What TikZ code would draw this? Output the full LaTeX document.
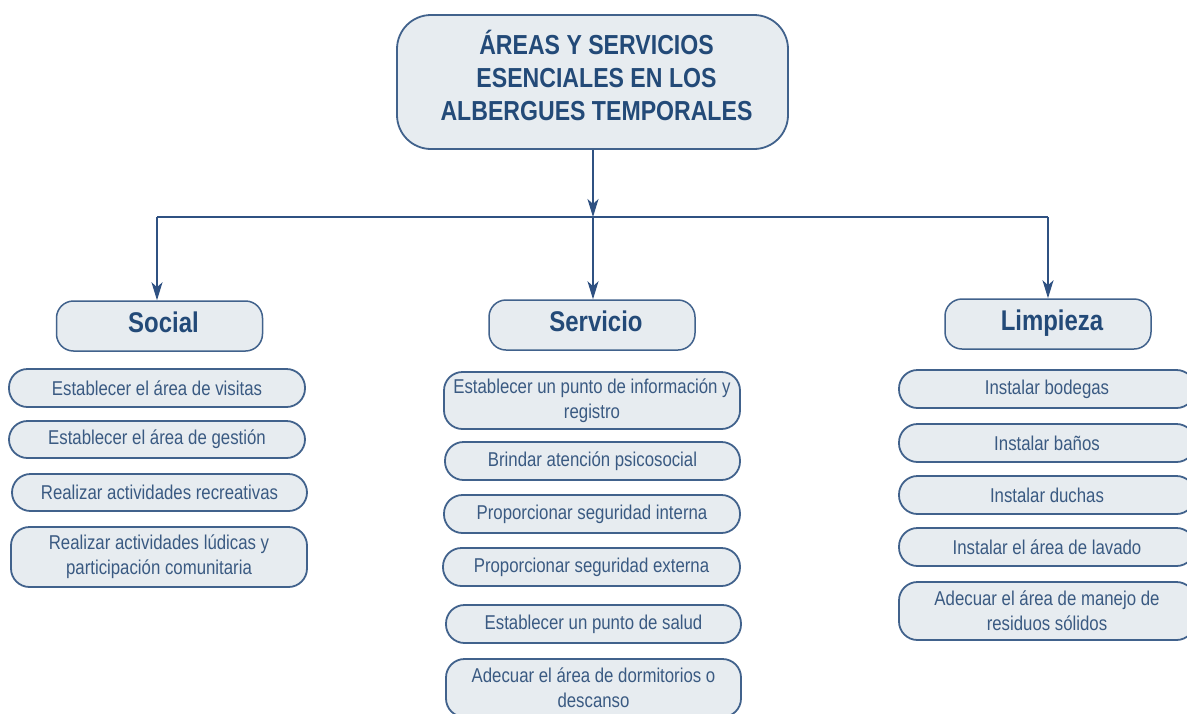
\documentclass[tikz,border=0pt]{standalone}
\usepackage{fontspec}
\setmainfont{Liberation Sans}[FakeStretch=0.84]
\usetikzlibrary{arrows.meta}
\definecolor{boxfill}{HTML}{E7ECF0}
\definecolor{boxline}{HTML}{41628C}
\definecolor{titletext}{HTML}{234A78}
\definecolor{itemtext}{HTML}{3A5A82}
\definecolor{arrowcol}{HTML}{2F5182}
\newcommand{\rs}{\hspace*{8pt}}
\begin{document}
\begin{tikzpicture}[x=1pt,y=-1pt,
  base/.style={draw=boxline, line width=1.8pt, fill=boxfill, align=center, inner sep=2pt},
  titlebox/.style={base, rounded corners=34pt, minimum width=391pt, minimum height=134pt,
    font=\fontsize{27.5}{33}\selectfont\bfseries, text=titletext, text depth=14pt},
  headbox/.style={base, line width=1.5pt, rounded corners=17pt, minimum width=206pt, minimum height=50pt,
    font=\fontsize{28.5}{32}\selectfont\bfseries, text=titletext, text height=20pt, text depth=8pt},
  itembox/.style={base, rounded corners=18.5pt, minimum height=38pt,
    font=\fontsize{20}{25}\selectfont, text=itemtext},
  conn/.style={draw=arrowcol, line width=2pt},
  arr/.style={conn, -{Stealth[length=18pt,width=11pt,inset=5pt]}}
]
\useasboundingbox (0,0) rectangle (1187,713);
\fill[white] (0,0) rectangle (1187,713);

% title
\node[titlebox] (title) at (592.5,82) {\rs ÁREAS Y SERVICIOS\\\rs ESENCIALES EN LOS\\\rs ALBERGUES TEMPORALES};

% headers
\node[headbox] (social) at (159.5,326) {\rs Social};
\node[headbox] (servicio) at (592,325) {\rs Servicio};
\node[headbox] (limpieza) at (1048,324) {\rs Limpieza};

% connectors
\coordinate (jc) at (593,217);
\coordinate (jl) at (157,217);
\coordinate (jr) at (1048,217);
\draw[conn, line width=2.6pt] (jl) -- (jr);
\draw[arr] (title.south -| jc) -- (jc);
\draw[arr] (jl) -- (jl |- social.north);
\draw[arr] (jc) -- (jc |- servicio.north);
\draw[arr] (jr) -- (jr |- limpieza.north);

% social items
\node[itembox, minimum width=296pt] (s1) at (157,388) {Establecer el área de visitas};
\node[itembox, minimum width=296pt, minimum height=37pt] (s2) at (157,439.5) {Establecer el área de gestión};
\node[itembox, minimum width=295pt, minimum height=37pt] (s3) at (159.5,492.5) {Realizar actividades recreativas};
\node[itembox, minimum width=296pt, minimum height=60pt] (s4) at (159,557) {Realizar actividades lúdicas y\\participación comunitaria};

% servicio items
\node[itembox, minimum width=296pt, minimum height=57pt] (v1) at (592,400.5) {Establecer un punto de información y\\registro};
\node[itembox, minimum width=295pt] (v2) at (592.5,461) {Brindar atención psicosocial};
\node[itembox, minimum width=296pt] (v3) at (592,514) {Proporcionar seguridad interna};
\node[itembox, minimum width=297pt] (v4) at (591.5,567) {Proporcionar seguridad externa};
\node[itembox, minimum width=295pt] (v5) at (593.5,624) {Establecer un punto de salud};
\node[itembox, minimum width=295pt, minimum height=58pt] (v6) at (593.5,688) {Adecuar el área de dormitorios o\\descanso};

% limpieza items
\node[itembox, minimum width=296pt] (l1) at (1047,389) {Instalar bodegas};
\node[itembox, minimum width=296pt] (l2) at (1047,443) {Instalar baños};
\node[itembox, minimum width=296pt] (l3) at (1047,495) {Instalar duchas};
\node[itembox, minimum width=296pt] (l4) at (1047,547) {Instalar el área de lavado};
\node[itembox, minimum width=296pt, minimum height=58pt] (l5) at (1047,611) {Adecuar el área de manejo de\\residuos sólidos};
\end{tikzpicture}
\end{document}
